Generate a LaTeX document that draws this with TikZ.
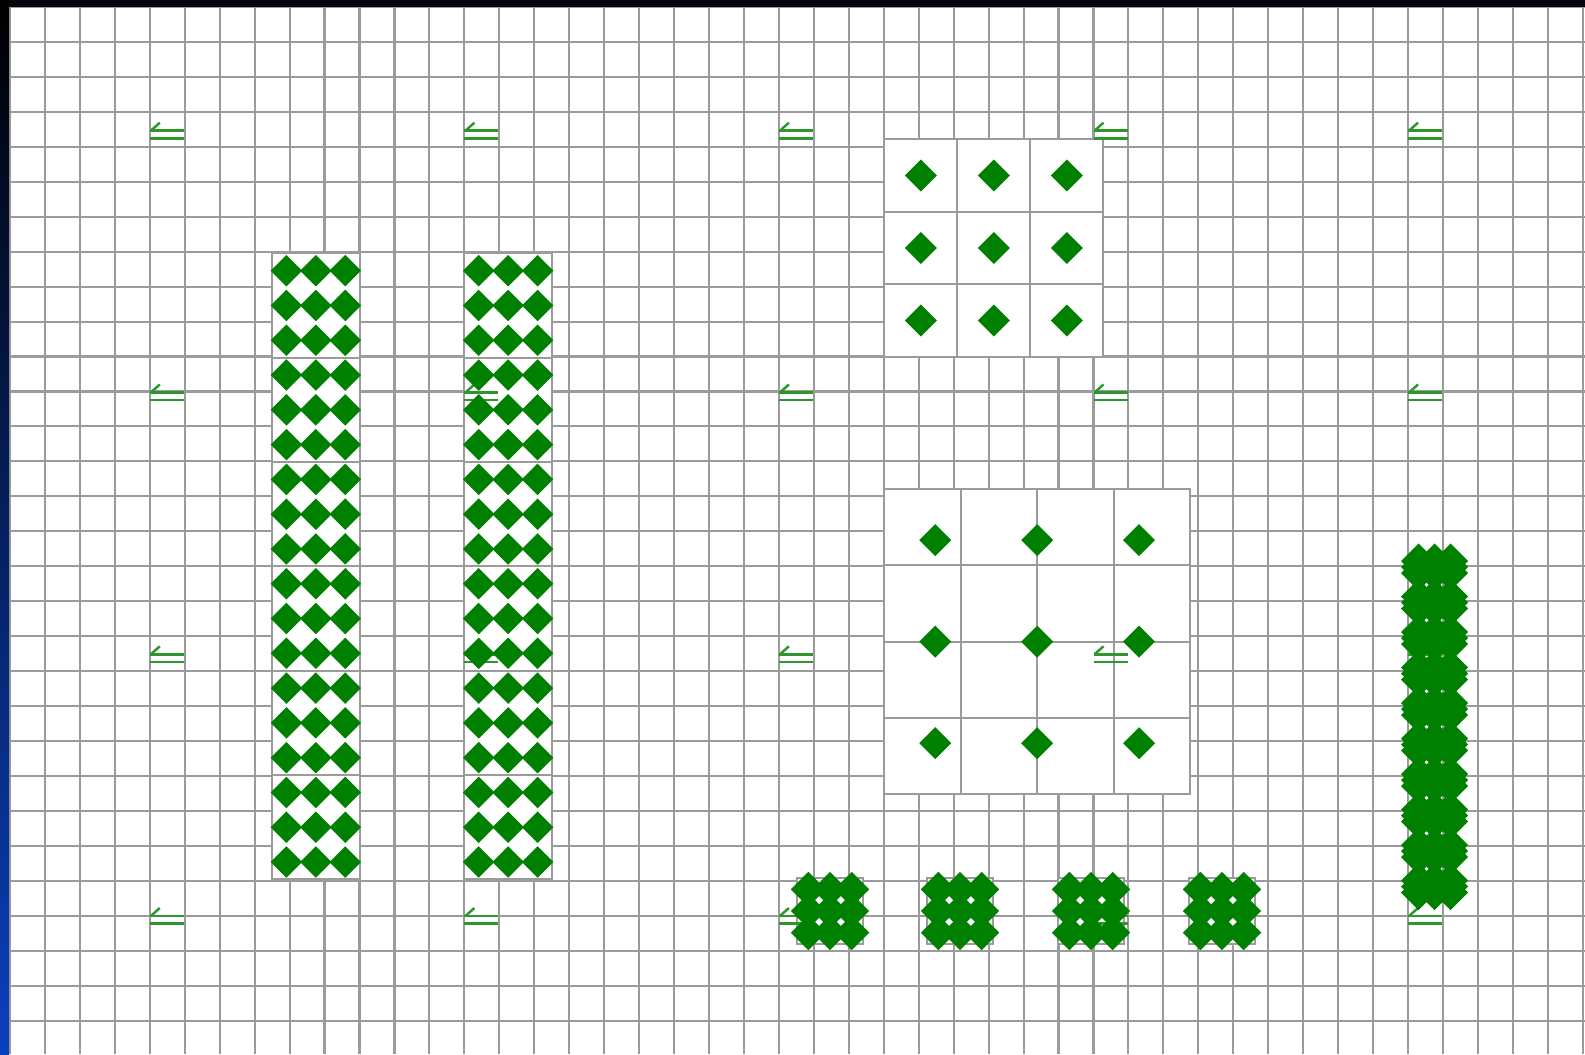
\documentclass[tikz,border=0pt]{standalone}
\usepackage{tikz}
\usetikzlibrary{positioning,shapes.geometric,calc}
\definecolor{gemgreen}{RGB}{0,128,0}
\definecolor{markgreen}{RGB}{45,150,45}
\definecolor{gridgray}{RGB}{155,155,155}
\definecolor{barmid}{RGB}{8,30,100}
\definecolor{barblue}{RGB}{10,64,190}
\definecolor{topbar}{RGB}{4,6,14}

\begin{document}
\begin{tikzpicture}[
    x=0.01cm, y=-0.01cm,
    gridline/.style={draw=gridgray, line width=0.6pt},
    tile/.style={rectangle, draw=gridgray, fill=white, line width=0.6pt, inner sep=0pt, outer sep=0pt},
    colbox/.style={minimum width=0.883cm, minimum height=1.0435cm},
    gem/.style={diamond, fill=gemgreen, inner sep=0pt, outer sep=0pt, minimum size=0.32cm},
    marker/.style={draw=markgreen, line width=0.7pt}
]
\useasboundingbox (0,0) rectangle (1585,1054);
\fill[white] (0,0) rectangle (1585,1054);

% Grid
\foreach \k in {0,...,45} \draw[gridline] ({10+34.95*\k},0) -- ({10+34.95*\k},1054);
\foreach \k in {0,...,29} \draw[gridline] (0,{7+34.95*\k}) -- (1585,{7+34.95*\k});

% Frame
\fill[topbar] (0,0) rectangle (1585,6.5);
\shade[top color=black, middle color=barmid, bottom color=barblue] (0,0) rectangle (9,1054);

% Boxes
\foreach \i in {0,...,5} {
  \node[tile, colbox, anchor=north west] (left\i) at (271.7,{253.3+104.35*\i}) {};
  \node[tile, colbox, anchor=north west] (right\i) at (464,{253.3+104.35*\i}) {};
}
\node[tile, minimum width=2.19cm, minimum height=2.174cm] (topbox) at (993.8,248) {};
\node[tile, minimum width=3.057cm, minimum height=3.047cm] (bigbox) at (1037.15,641.65) {};
\foreach \n/\cx in {1/830,2/960,3/1091,4/1222}
  \node[tile, minimum size=0.66cm] (pad\n) at (\cx,911) {};

% Cells inside the two large boxes
\foreach \f in {0.3333,0.6667} {
  \draw[gridline] ($(topbox.north west)!\f!(topbox.north east)$) -- ($(topbox.south west)!\f!(topbox.south east)$);
  \draw[gridline] ($(topbox.north west)!\f!(topbox.south west)$) -- ($(topbox.north east)!\f!(topbox.south east)$);
}
\foreach \f in {0.25,0.5,0.75} {
  \draw[gridline] ($(bigbox.north west)!\f!(bigbox.north east)$) -- ($(bigbox.south west)!\f!(bigbox.south east)$);
  \draw[gridline] ($(bigbox.north west)!\f!(bigbox.south west)$) -- ($(bigbox.north east)!\f!(bigbox.south east)$);
}

% Markers
\foreach \mx in {149.8,464.4,778.9,1093.5,1408}
  \foreach \my in {130.7,392.5,654.3,916} {
    \draw[marker] (\mx,\my) -- ++(34,0);
    \draw[marker] (\mx,{\my+7.6}) -- ++(34,0);
    \draw[marker] ({\mx+1},\my) -- ++(9,-8);
  }

% Gems in the two columns
\foreach \i in {0,...,5}
  \foreach \r in {0,1,2}
    \foreach \c in {0,1,2} {
      \node[gem, minimum size=0.315cm] (ga\i\r\c) at ({286.4+29.43*\c},{270.7+34.78*\r+104.35*\i}) {};
      \node[gem, minimum size=0.315cm] (gb\i\r\c) at ({478.7+29.43*\c},{270.7+34.78*\r+104.35*\i}) {};
    }

% Gems in the large boxes
\foreach \r in {0,1,2}
  \foreach \c in {0,1,2} {
    \node[gem] (gt\r\c) at ({920.8+73*\c},{175.5+72.5*\r}) {};
    \node[gem] (gg\r\c) at ({935.25+101.9*\c},{540.1+101.55*\r}) {};
  }

% Gem clusters
\foreach \n/\cx in {1/830,2/960,3/1091,4/1222}
  \foreach \r in {-1,0,1}
    \foreach \c in {-1,0,1}
      \node[gem, minimum size=0.35cm] (gp\n\r\c) at ({\cx+21.7*\c},{911+21.7*\r}) {};
\foreach \k in {0,...,9}
  \foreach \s in {0,1,2}
    \foreach \c in {0,1,2}
      \node[gem, minimum size=0.35cm] (gs\k\s\c) at ({1418.5+16*\c},{567+35.5*\k+6*(\s-1)}) {};

\end{tikzpicture}
\end{document}
